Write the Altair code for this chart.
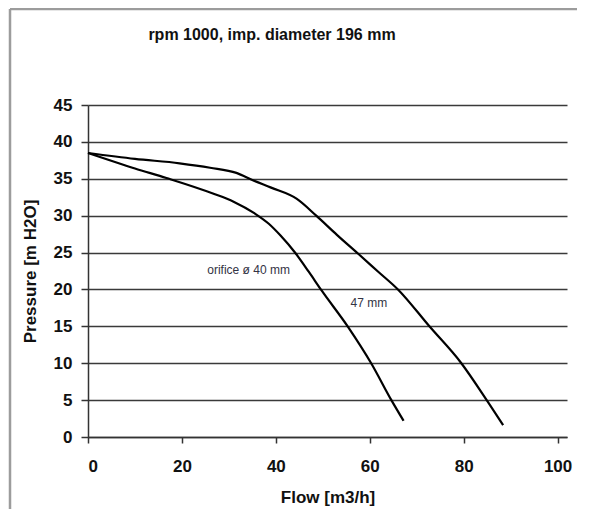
import altair as alt
import pandas as pd

# Curve data
flow_40 = [0, 10, 16.7, 26.6, 31, 35.5, 38.5, 41, 44.2, 47, 49.7, 55.4, 60.3, 64.6, 67.2]
pres_40 = [38.5, 36.4, 35.1, 33.0, 31.9, 30.3, 28.9, 27.3, 24.9, 22.4, 19.9, 14.9, 10.0, 5.0, 2.2]

flow_47 = [0, 10, 19.5, 26, 31.6, 35.1, 39, 44.4, 48.6, 53, 57.6, 61.8, 66.0, 72.7, 79.5, 84.9, 88.4]
pres_47 = [38.5, 37.7, 37.1, 36.5, 35.8, 34.8, 33.8, 32.3, 30.0, 27.4, 24.8, 22.4, 20.0, 15.0, 10.0, 5.0, 1.6]

label_text = ["orifice ø 40 mm", "47 mm"]
label_x = [34.2, 59.8]
label_y = [22.6, 18.1]

title_text = ["rpm 1000, imp. diameter 196 mm"]

x_ticks = [0, 20, 40, 60, 80, 100]
y_ticks = [0, 5, 10, 15, 20, 25, 30, 35, 40, 45]

rows = []
for fx, py in zip(flow_40, pres_40):
    rows.append({"flow": fx, "pressure": py, "curve": "40"})
for fx, py in zip(flow_47, pres_47):
    rows.append({"flow": fx, "pressure": py, "curve": "47"})
df = pd.DataFrame(rows)
labels = pd.DataFrame({"flow": label_x, "pressure": label_y, "text": label_text})
titles = pd.DataFrame({"text": title_text})

FONT = "Liberation Sans"

x_scale = alt.Scale(domain=[0, 102], nice=False, zero=False)
y_scale = alt.Scale(domain=[0, 45], nice=False)

x_axis = alt.Axis(title="Flow [m3/h]", values=x_ticks, grid=False,
                  tickSize=6, labelPadding=15, titlePadding=15)
y_axis = alt.Axis(title="Pressure [m H2O]", values=y_ticks, grid=True,
                  tickSize=7, labelPadding=9, titlePadding=14)

lines = alt.Chart(df).mark_line(color="black", strokeWidth=2.2, interpolate="monotone").encode(
    x=alt.X("flow:Q", scale=x_scale, axis=x_axis),
    y=alt.Y("pressure:Q", scale=y_scale, axis=y_axis),
    detail="curve:N",
)

texts = alt.Chart(labels).mark_text(
    font=FONT, fontSize=12, color="#333344", align="center", baseline="middle"
).encode(x=alt.X("flow:Q", scale=x_scale, axis=x_axis),
         y=alt.Y("pressure:Q", scale=y_scale, axis=y_axis), text="text:N")

title_mark = alt.Chart(titles).mark_text(
    font=FONT, fontSize=16, fontWeight="bold", color="#111111",
    align="center", baseline="middle"
).encode(x=alt.value(184), y=alt.value(-70), text="text:N")

frame_left = alt.Chart(pd.DataFrame({"a": [0]})).mark_rule(color="#9c9c9c", strokeWidth=2.5).encode(
    x=alt.value(-78), y=alt.value(-96), y2=alt.value(420))
frame_top = alt.Chart(pd.DataFrame({"a": [0]})).mark_rule(color="#9c9c9c", strokeWidth=2.5).encode(
    x=alt.value(-78), x2=alt.value(510), y=alt.value(-96))

chart = alt.layer(lines, texts, frame_left, frame_top, title_mark).properties(
    width=479,
    height=332,
    autosize=alt.AutoSizeParams(type="none"),
    padding={"left": 80, "top": 97, "right": 10, "bottom": 72},
).configure_view(stroke=None).configure_axis(
    labelFont=FONT, titleFont=FONT, labelFontSize=17, titleFontSize=17,
    labelFontWeight="bold", titleFontWeight="bold", labelColor="#111111",
    titleColor="#111111", domainColor="#333333", domainWidth=1.5,
    tickColor="#333333", tickWidth=1.5, gridColor="#3a3a3a", gridWidth=1.4,
    gridOpacity=1,
)

chart.save("out.html", embed_options={"renderer": "svg", "actions": False})
